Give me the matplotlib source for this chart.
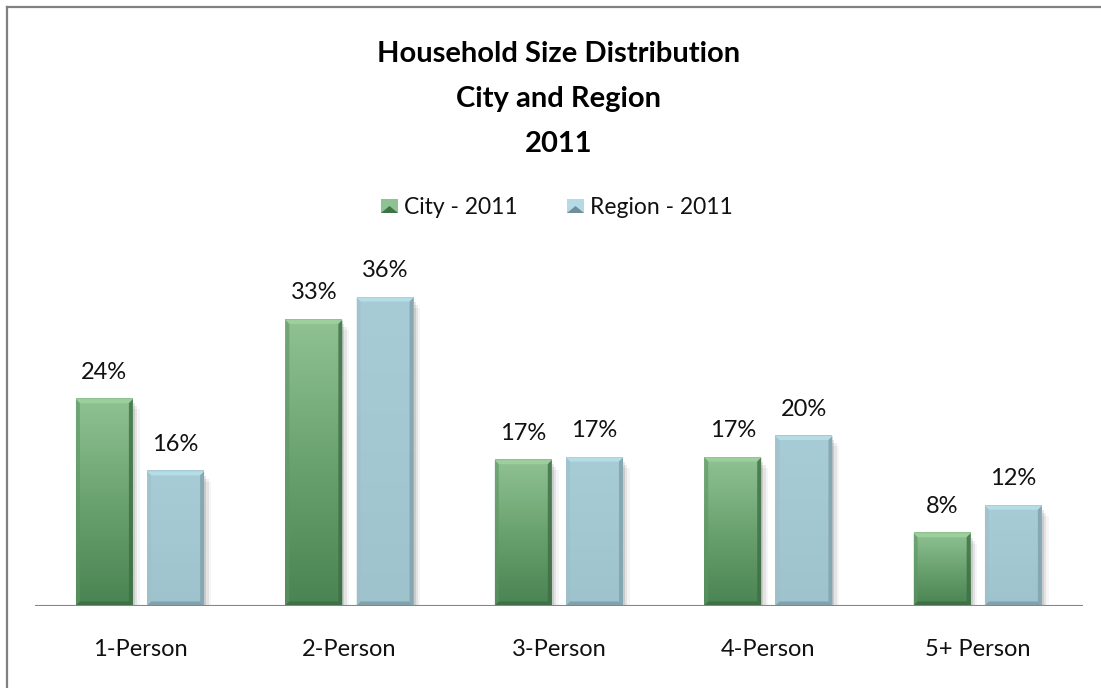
import numpy as np
import matplotlib
matplotlib.use("Agg")
import matplotlib.pyplot as plt
from matplotlib.patches import Polygon, Rectangle
from matplotlib.colors import LinearSegmentedColormap
from matplotlib.lines import Line2D

# ---- data ----
categories = ["1-Person", "2-Person", "3-Person", "4-Person", "5+ Person"]
city_2011 = [24.0, 33.2, 16.9, 17.2, 8.4]
region_2011 = [15.6, 35.8, 17.2, 19.7, 11.6]
series_names = ["City - 2011", "Region - 2011"]
title_lines = ["Household Size Distribution", "City and Region", "2011"]

FONT = "Lato"
plt.rcParams["font.family"] = [FONT, "DejaVu Sans"]

W, H = 1101, 688
fig = plt.figure(figsize=(W / 100, H / 100), dpi=100)
fig.patch.set_facecolor("white")

# axes placement in pixels
ax_left, ax_right = 35.3, 1082.5
base_y, top_y = 605.5, 280.0
px_per_unit = 8.6
ax = fig.add_axes([ax_left / W, (H - base_y) / H, (ax_right - ax_left) / W, (base_y - top_y) / H])
ax.set_xlim(-0.5, len(categories) - 0.5)
ax.set_ylim(0, (base_y - top_y) / px_per_unit)
for s in ax.spines.values():
    s.set_visible(False)
ax.set_xticks([])
ax.set_yticks([])
ax.patch.set_alpha(0)

green_cmap = LinearSegmentedColormap.from_list("g", ["#4a8452", "#6aa26f", "#90c294"])
blue_cmap = LinearSegmentedColormap.from_list("b", ["#9fc3cd", "#a4c8d2", "#a8ccd6"])

bw = 0.272
off = 0.17
xpx = (ax_right - ax_left) / len(categories)  # px per x unit
dx = 4.0 / xpx
dy = 4.0 / px_per_unit


def draw_bar(xc, h, cmap, top_col, side_dark, side_light, bottom_col):
    x0, x1 = xc - bw / 2, xc + bw / 2
    # shadow
    for k, a in enumerate([0.10, 0.07, 0.04]):
        sh = Rectangle((x0 + dx * (0.5 + k * 0.6), -0.9 - k * 0.35), bw, h + 0.4,
                       facecolor="black", alpha=a, linewidth=0, zorder=1)
        ax.add_patch(sh)
    grad = np.linspace(0, 1, 256).reshape(-1, 1)
    ax.imshow(grad, extent=[x0, x1, 0, h], origin="lower", aspect="auto",
              cmap=cmap, zorder=2, interpolation="bicubic")
    # bevels
    ax.add_patch(Polygon([(x0, h), (x1, h), (x1 - dx, h - dy), (x0 + dx, h - dy)],
                         closed=True, facecolor=top_col, linewidth=0, zorder=3))
    ax.add_patch(Polygon([(x1, h), (x1, 0), (x1 - dx, dy), (x1 - dx, h - dy)],
                         closed=True, facecolor=side_dark, linewidth=0, zorder=3, alpha=0.8))
    ax.add_patch(Polygon([(x0, h), (x0, 0), (x0 + dx, dy), (x0 + dx, h - dy)],
                         closed=True, facecolor=side_light, linewidth=0, zorder=3, alpha=0.6))
    ax.add_patch(Polygon([(x0, 0), (x1, 0), (x1 - dx, dy), (x0 + dx, dy)],
                         closed=True, facecolor=bottom_col, linewidth=0, zorder=3, alpha=0.8))


LABEL_FS = 17
for i, cat in enumerate(categories):
    draw_bar(i - off, city_2011[i], green_cmap, "#9ccf9c", "#3f6e45", "#5d9563", "#3c6a42")
    draw_bar(i + off, region_2011[i], blue_cmap, "#b4dde8", "#7fa0aa", "#9dbfc9", "#7b9aa3")
    ax.annotate(f"{round(city_2011[i])}%", xy=(i - off, city_2011[i]), xytext=(0, 27),
                textcoords="offset pixels", ha="center", va="center", fontsize=LABEL_FS, color="#111111")
    ax.annotate(f"{round(region_2011[i])}%", xy=(i + off, region_2011[i]), xytext=(0, 27),
                textcoords="offset pixels", ha="center", va="center", fontsize=LABEL_FS, color="#111111")
    ax.annotate(cat, xy=(i, 0), xytext=(0, -44), textcoords="offset pixels",
                ha="center", va="center", fontsize=LABEL_FS, color="#111111")

# baseline
ax.axhline(0, color="#868686", linewidth=1.5, zorder=4)
ax.set_xlim(-0.5, len(categories) - 0.5)

# frame (top and left visible)
fig.add_artist(Line2D([7 / W, 7 / W], [0, (H - 6.5) / H], transform=fig.transFigure,
                      color="#808080", linewidth=1.6))
fig.add_artist(Line2D([7 / W, 1], [(H - 6.5) / H, (H - 6.5) / H], transform=fig.transFigure,
                      color="#808080", linewidth=1.6))

# title
for line, yb in zip(title_lines, [62, 107, 152]):
    fig.text(559 / W, (H - yb) / H, line, ha="center", va="baseline",
             fontsize=21, fontweight="bold", color="black")

# legend
def legend_marker(x0, x1, y0, y1, light, dark):
    fig.add_artist(Rectangle((x0 / W, (H - y1) / H), (x1 - x0) / W, (y1 - y0) / H,
                             transform=fig.transFigure, facecolor=light, edgecolor="none"))
    fig.add_artist(Polygon([((x0) / W, (H - y1) / H), (x1 / W, (H - y1) / H),
                            ((x0 + x1) / 2 / W, (H - (y0 + y1) / 2) / H)],
                           transform=fig.transFigure, facecolor=dark, edgecolor="none"))

legend_marker(381, 398, 199, 213, "#8fc293", "#3f7346")
fig.text(404 / W, (H - 207) / H, series_names[0], ha="left", va="center", fontsize=16.5, color="#111111")
legend_marker(567, 584, 199, 213, "#b4dae5", "#6f8f99")
fig.text(590 / W, (H - 207) / H, series_names[1], ha="left", va="center", fontsize=16.5, color="#111111")

fig.savefig("out.png", dpi=100, facecolor="white")
